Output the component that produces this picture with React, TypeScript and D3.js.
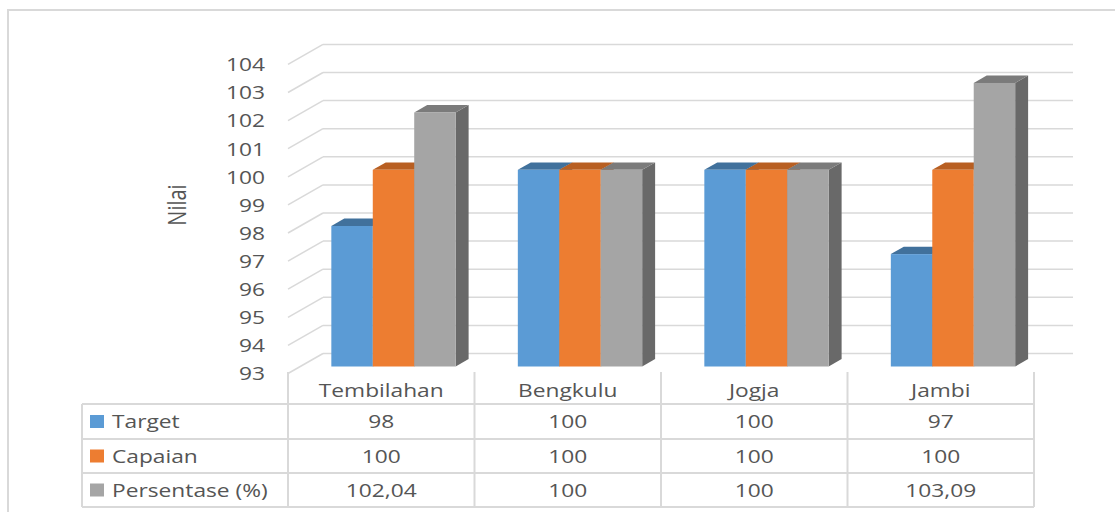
import React from "react";
import * as d3 from "d3";

const categories = ["Tembilahan", "Bengkulu", "Jogja", "Jambi"];
const seriesNames = ["Target", "Capaian", "Persentase (%)"];
const target = [98, 100, 100, 97];
const capaian = [100, 100, 100, 100];
const persentase = [102.04, 100, 100, 103.09];
const yTicks = [93, 94, 95, 96, 97, 98, 99, 100, 101, 102, 103, 104];

const seriesValues = [target, capaian, persentase];
const faceColors = ["#5B9BD5", "#ED7D31", "#A5A5A5"];
const topColors = ["#41719C", "#B85F22", "#7B7B7B"];
const sideColors = ["#41719C", "#AE5A21", "#696969"];

const TEXT = "#555555";
const GRID = "#D9D9D9";
const FONT = "'Open Sans', 'Noto Sans', sans-serif";
const SX = 1.3;

const fmt = (v: number) =>
  Number.isInteger(v) ? String(v) : v.toFixed(2).replace(".", ",");

function SText({ x, y, anchor = "middle", size = 17, children, rotate = 0 }: any) {
  return (
    <g transform={`translate(${x},${y}) scale(${SX},1)${rotate ? ` rotate(${rotate})` : ""}`}>
      <text
        x={0}
        y={0}
        textAnchor={anchor}
        dominantBaseline="central"
        fontFamily={FONT}
        fontSize={size}
        fill={TEXT}
      >
        {children}
      </text>
    </g>
  );
}

export default function App() {
  const W = 1115;
  const H = 512;
  const x0 = 288;
  const x1 = 1034;
  const DX = 35;
  const DY = -20;
  const backW = 750;

  const y = d3.scaleLinear().domain([93, 104]).range([373.5, 64.4]);
  const xb = d3.scaleBand<string>().domain(categories).range([x0, x1]).padding(0);
  const bw = xb.bandwidth();
  const groupW = (bw * 2) / 3;
  const barW = groupW / 3;
  const tBar = 0.35;
  const tDepth = 0.37;
  const bOx = DX * tBar;
  const bOy = DY * tBar;
  const dOx = DX * tDepth;
  const dOy = DY * tDepth;

  const rowTop = 372;
  const rows = [404, 439, 473, 507];

  return (
    <svg
      width={W}
      height={H}
      style={{ position: "absolute", left: 0, top: 0, background: "#fff" }}
    >
      <rect x={8} y={10} width={1130} height={520} fill="#fff" stroke={GRID} strokeWidth={2} />

      {yTicks.map((v) => (
        <g key={"g" + v}>
          <line
            x1={x0 + DX}
            x2={x0 + DX + backW}
            y1={y(v) + DY}
            y2={y(v) + DY}
            stroke={GRID}
            strokeWidth={1.5}
          />
          <line
            x1={x0}
            y1={y(v)}
            x2={x0 + DX}
            y2={y(v) + DY}
            stroke={GRID}
            strokeWidth={1.5}
          />
        </g>
      ))}

      {yTicks.map((v) => (
        <SText key={"t" + v} x={265} y={y(v)} anchor="end" size={17.5}>
          {v}
        </SText>
      ))}

      <SText x={176} y={205} size={20} rotate={-90}>
        Nilai
      </SText>

      {categories.map((c, ci) => {
        const gx = (xb(c) as number) + bw / 6 + bOx;
        return (
          <g key={c}>
            {seriesValues.map((vals, si) => {
              const v = vals[ci];
              const bx = gx + si * barW;
              const top = y(v) + bOy;
              const bottom = y(93) + bOy;
              return (
                <g key={si}>
                  <polygon
                    points={`${bx + barW},${top} ${bx + barW + dOx},${top + dOy} ${bx + barW + dOx},${bottom + dOy} ${bx + barW},${bottom}`}
                    fill={sideColors[si]}
                  />
                  <polygon
                    points={`${bx},${top} ${bx + dOx},${top + dOy} ${bx + barW + dOx},${top + dOy} ${bx + barW},${top}`}
                    fill={topColors[si]}
                  />
                  <rect x={bx} y={top} width={barW} height={bottom - top} fill={faceColors[si]} />
                </g>
              );
            })}
          </g>
        );
      })}

      {[...categories.map((c) => xb(c) as number), x1].map((lx, i) => (
        <line key={"v" + i} x1={lx} x2={lx} y1={rowTop} y2={rows[3]} stroke={GRID} strokeWidth={2} />
      ))}
      <line x1={82} x2={82} y1={rows[0]} y2={rows[3]} stroke={GRID} strokeWidth={2} />
      {rows.map((ry, i) => (
        <line key={"h" + i} x1={82} x2={x1} y1={ry} y2={ry} stroke={GRID} strokeWidth={2} />
      ))}

      {categories.map((c) => (
        <SText key={"c" + c} x={(xb(c) as number) + bw / 2} y={390} size={17.5}>
          {c}
        </SText>
      ))}

      {seriesNames.map((name, si) => {
        const cy = (rows[si] + rows[si + 1]) / 2;
        return (
          <g key={name}>
            <rect x={90} y={cy - 6.5} width={14} height={13} fill={faceColors[si]} />
            <SText x={112} y={cy} anchor="start" size={17.5}>
              {name}
            </SText>
            {categories.map((c, ci) => (
              <SText key={c} x={(xb(c) as number) + bw / 2} y={cy} size={17.5}>
                {fmt(seriesValues[si][ci])}
              </SText>
            ))}
          </g>
        );
      })}
    </svg>
  );
}
